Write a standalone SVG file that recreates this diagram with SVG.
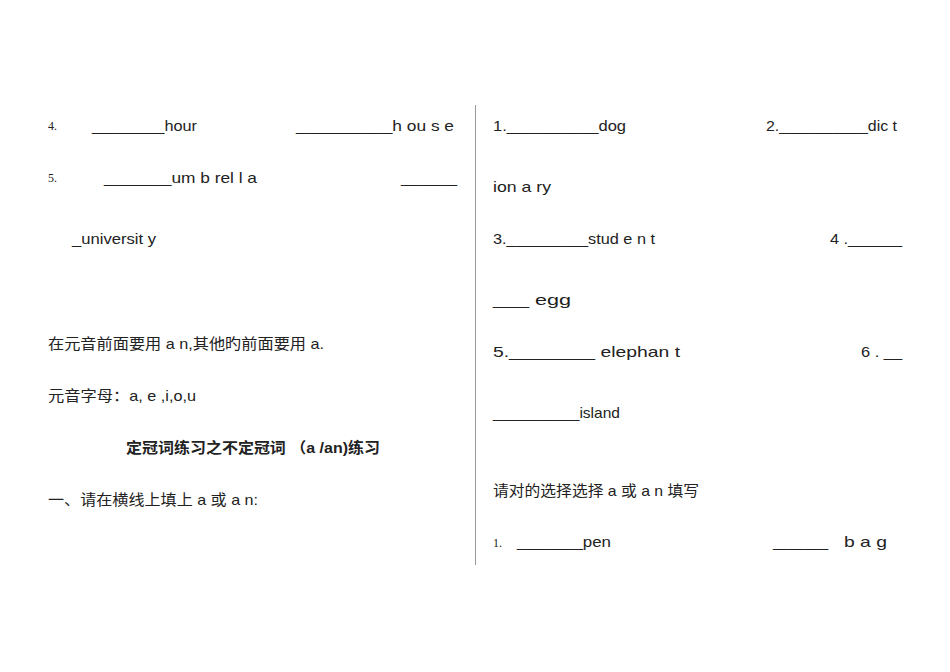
<svg xmlns="http://www.w3.org/2000/svg" width="950" height="672" viewBox="0 0 950 672">
<style>
text{font-family:"Liberation Sans","Noto Sans CJK SC",sans-serif;font-size:15px;fill:#222}
.n{font-family:"Liberation Serif",serif;font-size:12px}
.b{font-weight:bold}
</style>
<rect width="950" height="672" fill="#fff"/>
<line x1="475.5" y1="105" x2="475.5" y2="565" stroke="#999" stroke-width="1"/>
<text class="n" x="48" y="130">4.</text>
<text x="92" y="131" textLength="105" lengthAdjust="spacingAndGlyphs">________hour</text>
<text x="296" y="131" textLength="158" lengthAdjust="spacingAndGlyphs">__________h ou s e</text>
<text class="n" x="48" y="182">5.</text>
<text x="104" y="183" textLength="153" lengthAdjust="spacingAndGlyphs">_______um b rel  l  a</text>
<text x="401" y="183" textLength="56" lengthAdjust="spacingAndGlyphs">______</text>
<text x="72" y="244" textLength="84" lengthAdjust="spacingAndGlyphs">_universit  y</text>
<text x="48" y="349" textLength="276" lengthAdjust="spacingAndGlyphs">在元音前面要用 a n,其他旳前面要用 a.</text>
<text x="48" y="401" textLength="148" lengthAdjust="spacingAndGlyphs">元音字母：a, e ,i,o,u</text>
<text class="b" x="126" y="453" textLength="254" lengthAdjust="spacingAndGlyphs">定冠词练习之不定冠词 （a /an)练习</text>
<text x="48" y="505" textLength="210" lengthAdjust="spacingAndGlyphs">一、请在横线上填上 a 或 a n:</text>
<text x="493" y="131" textLength="133" lengthAdjust="spacingAndGlyphs">1.__________dog</text>
<text x="766" y="131" textLength="131" lengthAdjust="spacingAndGlyphs">2.__________dic  t</text>
<text x="493" y="192" textLength="58" lengthAdjust="spacingAndGlyphs">ion a ry</text>
<text x="493" y="244" textLength="162" lengthAdjust="spacingAndGlyphs">3._________stud  e  n  t</text>
<text x="830" y="244" textLength="72" lengthAdjust="spacingAndGlyphs">4 .______</text>
<text x="493" y="305" textLength="78" lengthAdjust="spacingAndGlyphs">___    egg</text>
<text x="493" y="357" textLength="187" lengthAdjust="spacingAndGlyphs">5.________    elephan  t</text>
<text x="861" y="357" textLength="41" lengthAdjust="spacingAndGlyphs">6 .  __</text>
<text x="493" y="418" textLength="127" lengthAdjust="spacingAndGlyphs">__________island</text>
<text x="493" y="496" textLength="206" lengthAdjust="spacingAndGlyphs">请对的选择选择 a 或 a n 填写</text>
<text class="n" x="493" y="547">1.</text>
<text x="517" y="547" textLength="94" lengthAdjust="spacingAndGlyphs">_______pen</text>
<text x="773" y="547" textLength="55" lengthAdjust="spacingAndGlyphs">_______</text>
<text x="844" y="547" textLength="43" lengthAdjust="spacingAndGlyphs">b  a  g</text>
</svg>
